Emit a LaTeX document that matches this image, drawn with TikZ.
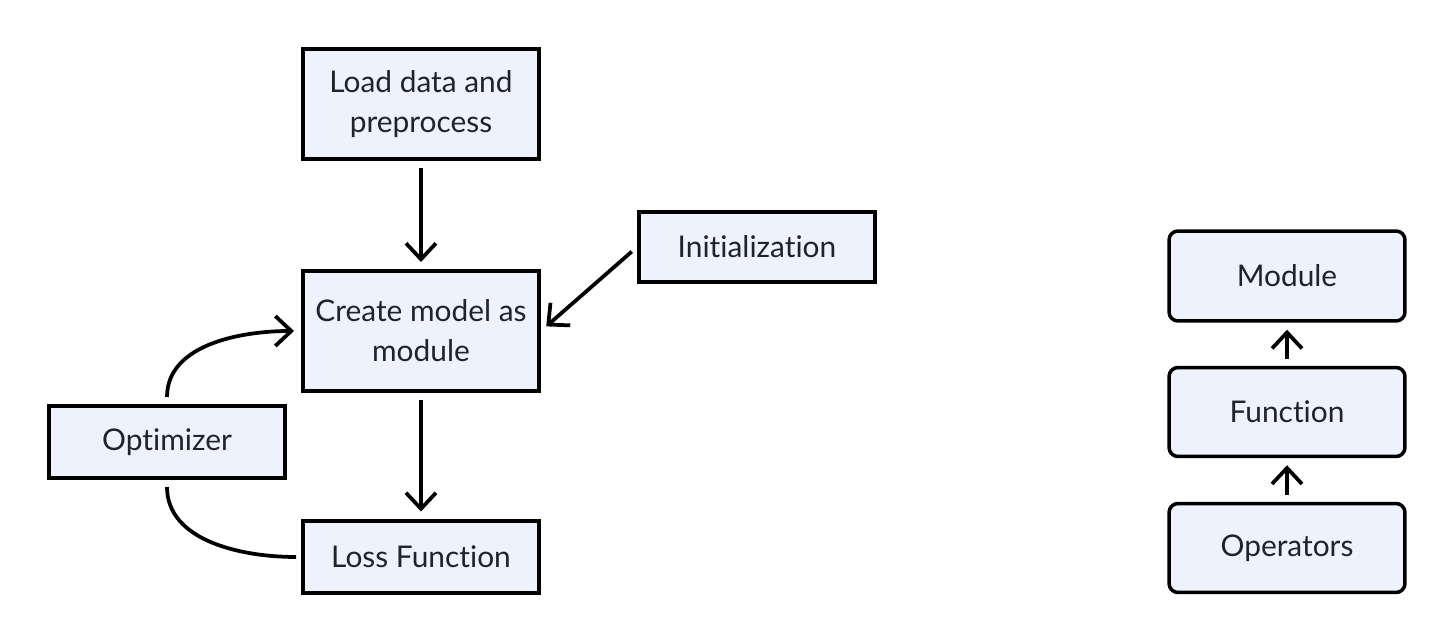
\documentclass[tikz,border=0pt]{standalone}
\usepackage{fontspec}
\setmainfont{Lato}[Ligatures=NoCommon]
\usetikzlibrary{arrows.meta}
\definecolor{cajafondo}{HTML}{EEF2FC}
\definecolor{textoosc}{HTML}{1F232B}
\tikzset{
  caja/.style={draw=black, line width=0.08cm, fill=cajafondo, text=textoosc,
    align=center, minimum width=4.72cm, font=\fontsize{17}{22.8}\selectfont},
  cajared/.style={caja, rounded corners=0.18cm, line width=0.07cm},
  flecha/.style={line width=0.075cm, -{Straight Barb[length=0.32cm,width=0.6cm]},
    shorten <=0.14cm, shorten >=0.14cm},
  linea/.style={line width=0.075cm, shorten <=0.14cm, shorten >=0.1cm},
}
\begin{document}
\begin{tikzpicture}[x=0.02cm,y=-0.02cm]
\useasboundingbox (0,0) rectangle (1456,644);
            % Flujo de entrenamiento
            \begin{scope}
                \node[caja, minimum height=2.2cm] (load) at (421,104) {Load data and\\preprocess};
                \node[caja, minimum height=2.4cm] (create) at (421,331) {Create model as\\module};
                \node[caja, minimum height=1.42cm] (init) at (757,247) {Initialization};
                \node[caja, minimum height=1.44cm] (opt) at (167,442) {Optimizer};
                \node[caja, minimum height=1.46cm] (loss) at (421,557) {Loss Function};
                \draw[flecha] (load) -- (create);
                \draw[flecha] (create) -- (loss);
                \draw[flecha] (init.west) -- (create.east);
                \draw[flecha] (opt.north) to[out=90,in=180] (create.west);
                \draw[linea] (opt.south) to[out=-90,in=180] (loss.west);
            \end{scope}
            % Jerarquia
            \begin{scope}
                \node[cajared, minimum height=1.8cm] (module) at (1287,276) {Module};
                \node[cajared, minimum height=1.78cm] (func) at (1287,412) {Function};
                \node[cajared, minimum height=1.78cm] (ops) at (1287,548) {Operators};
                \draw[flecha] (ops) -- (func);
                \draw[flecha] (func) -- (module);
            \end{scope}
\end{tikzpicture}
\end{document}
